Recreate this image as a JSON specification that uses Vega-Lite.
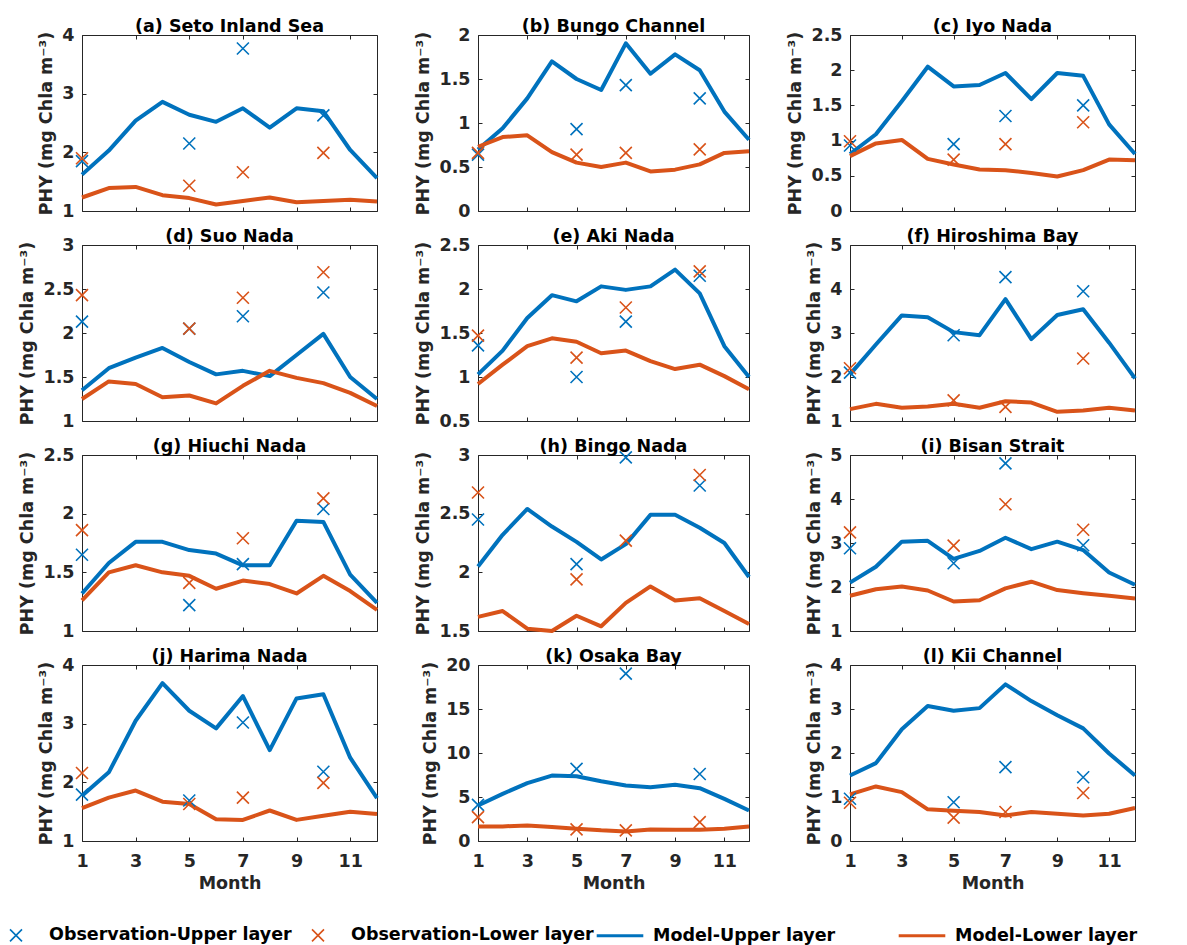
{
"$schema": "https://vega.github.io/schema/vega-lite/v6.json",
"padding": {"left": 5, "top": 17, "right": 5, "bottom": 5},
"background": "white",
"data": {"values": [
{"p":"a","m":1,"MU":1.62,"ML":1.23,"OU":1.85,"OL":1.9},
{"p":"a","m":2,"MU":2.03,"ML":1.39},
{"p":"a","m":3,"MU":2.54,"ML":1.41},
{"p":"a","m":4,"MU":2.86,"ML":1.27},
{"p":"a","m":5,"MU":2.64,"ML":1.22,"OU":2.15,"OL":1.43},
{"p":"a","m":6,"MU":2.52,"ML":1.11},
{"p":"a","m":7,"MU":2.75,"ML":1.17,"OU":3.77,"OL":1.66},
{"p":"a","m":8,"MU":2.42,"ML":1.23},
{"p":"a","m":9,"MU":2.75,"ML":1.15},
{"p":"a","m":10,"MU":2.70,"ML":1.17,"OU":2.63,"OL":1.99},
{"p":"a","m":11,"MU":2.04,"ML":1.19},
{"p":"a","m":12,"MU":1.56,"ML":1.16},
{"p":"b","m":1,"MU":0.70,"ML":0.73,"OU":0.64,"OL":0.66},
{"p":"b","m":2,"MU":0.94,"ML":0.84},
{"p":"b","m":3,"MU":1.28,"ML":0.86},
{"p":"b","m":4,"MU":1.70,"ML":0.67},
{"p":"b","m":5,"MU":1.50,"ML":0.55,"OU":0.93,"OL":0.64},
{"p":"b","m":6,"MU":1.375,"ML":0.50},
{"p":"b","m":7,"MU":1.905,"ML":0.55,"OU":1.43,"OL":0.66},
{"p":"b","m":8,"MU":1.56,"ML":0.45},
{"p":"b","m":9,"MU":1.78,"ML":0.47},
{"p":"b","m":10,"MU":1.60,"ML":0.53,"OU":1.28,"OL":0.70},
{"p":"b","m":11,"MU":1.13,"ML":0.66},
{"p":"b","m":12,"MU":0.81,"ML":0.68},
{"p":"c","m":1,"MU":0.81,"ML":0.78,"OU":0.93,"OL":0.99},
{"p":"c","m":2,"MU":1.09,"ML":0.96},
{"p":"c","m":3,"MU":1.56,"ML":1.01},
{"p":"c","m":4,"MU":2.05,"ML":0.74},
{"p":"c","m":5,"MU":1.77,"ML":0.66,"OU":0.95,"OL":0.73},
{"p":"c","m":6,"MU":1.79,"ML":0.59},
{"p":"c","m":7,"MU":1.96,"ML":0.58,"OU":1.35,"OL":0.95},
{"p":"c","m":8,"MU":1.59,"ML":0.54},
{"p":"c","m":9,"MU":1.96,"ML":0.49},
{"p":"c","m":10,"MU":1.92,"ML":0.58,"OU":1.50,"OL":1.26},
{"p":"c","m":11,"MU":1.23,"ML":0.73},
{"p":"c","m":12,"MU":0.81,"ML":0.72},
{"p":"d","m":1,"MU":1.35,"ML":1.25,"OU":2.13,"OL":2.43},
{"p":"d","m":2,"MU":1.60,"ML":1.45},
{"p":"d","m":3,"MU":1.72,"ML":1.42},
{"p":"d","m":4,"MU":1.83,"ML":1.27},
{"p":"d","m":5,"MU":1.67,"ML":1.29,"OU":2.05,"OL":2.05},
{"p":"d","m":6,"MU":1.53,"ML":1.20},
{"p":"d","m":7,"MU":1.57,"ML":1.40,"OU":2.19,"OL":2.40},
{"p":"d","m":8,"MU":1.51,"ML":1.57},
{"p":"d","m":9,"MU":1.75,"ML":1.49},
{"p":"d","m":10,"MU":1.99,"ML":1.43,"OU":2.46,"OL":2.69},
{"p":"d","m":11,"MU":1.50,"ML":1.32},
{"p":"d","m":12,"MU":1.25,"ML":1.17},
{"p":"e","m":1,"MU":1.03,"ML":0.92,"OU":1.36,"OL":1.47},
{"p":"e","m":2,"MU":1.30,"ML":1.14},
{"p":"e","m":3,"MU":1.67,"ML":1.35},
{"p":"e","m":4,"MU":1.93,"ML":1.44},
{"p":"e","m":5,"MU":1.86,"ML":1.40,"OU":1.00,"OL":1.22},
{"p":"e","m":6,"MU":2.03,"ML":1.27},
{"p":"e","m":7,"MU":1.99,"ML":1.30,"OU":1.63,"OL":1.79},
{"p":"e","m":8,"MU":2.03,"ML":1.18},
{"p":"e","m":9,"MU":2.22,"ML":1.09},
{"p":"e","m":10,"MU":1.95,"ML":1.14,"OU":2.15,"OL":2.20},
{"p":"e","m":11,"MU":1.35,"ML":1.01},
{"p":"e","m":12,"MU":1.00,"ML":0.86},
{"p":"f","m":1,"MU":2.06,"ML":1.27,"OU":2.10,"OL":2.20},
{"p":"f","m":2,"MU":2.74,"ML":1.39},
{"p":"f","m":3,"MU":3.40,"ML":1.30},
{"p":"f","m":4,"MU":3.36,"ML":1.33},
{"p":"f","m":5,"MU":3.02,"ML":1.39,"OU":2.95,"OL":1.47},
{"p":"f","m":6,"MU":2.95,"ML":1.30},
{"p":"f","m":7,"MU":3.77,"ML":1.45,"OU":4.27,"OL":1.32},
{"p":"f","m":8,"MU":2.86,"ML":1.42},
{"p":"f","m":9,"MU":3.41,"ML":1.21},
{"p":"f","m":10,"MU":3.54,"ML":1.24,"OU":3.95,"OL":2.42},
{"p":"f","m":11,"MU":2.78,"ML":1.30},
{"p":"f","m":12,"MU":1.97,"ML":1.24},
{"p":"g","m":1,"MU":1.32,"ML":1.26,"OU":1.65,"OL":1.86},
{"p":"g","m":2,"MU":1.58,"ML":1.50},
{"p":"g","m":3,"MU":1.76,"ML":1.56},
{"p":"g","m":4,"MU":1.76,"ML":1.50},
{"p":"g","m":5,"MU":1.69,"ML":1.47,"OU":1.22,"OL":1.41},
{"p":"g","m":6,"MU":1.66,"ML":1.36},
{"p":"g","m":7,"MU":1.56,"ML":1.43,"OU":1.57,"OL":1.79},
{"p":"g","m":8,"MU":1.56,"ML":1.40},
{"p":"g","m":9,"MU":1.94,"ML":1.32},
{"p":"g","m":10,"MU":1.93,"ML":1.47,"OU":2.04,"OL":2.13},
{"p":"g","m":11,"MU":1.48,"ML":1.34},
{"p":"g","m":12,"MU":1.24,"ML":1.18},
{"p":"h","m":1,"MU":2.05,"ML":1.62,"OU":2.45,"OL":2.68},
{"p":"h","m":2,"MU":2.32,"ML":1.67},
{"p":"h","m":3,"MU":2.54,"ML":1.52},
{"p":"h","m":4,"MU":2.39,"ML":1.50},
{"p":"h","m":5,"MU":2.26,"ML":1.63,"OU":2.07,"OL":1.94},
{"p":"h","m":6,"MU":2.11,"ML":1.54},
{"p":"h","m":7,"MU":2.24,"ML":1.74,"OU":2.98,"OL":2.27},
{"p":"h","m":8,"MU":2.49,"ML":1.88},
{"p":"h","m":9,"MU":2.49,"ML":1.76},
{"p":"h","m":10,"MU":2.38,"ML":1.78,"OU":2.74,"OL":2.83},
{"p":"h","m":11,"MU":2.25,"ML":1.67},
{"p":"h","m":12,"MU":1.96,"ML":1.56},
{"p":"i","m":1,"MU":2.10,"ML":1.80,"OU":2.88,"OL":3.24},
{"p":"i","m":2,"MU":2.46,"ML":1.95},
{"p":"i","m":3,"MU":3.03,"ML":2.01},
{"p":"i","m":4,"MU":3.05,"ML":1.92},
{"p":"i","m":5,"MU":2.64,"ML":1.67,"OU":2.54,"OL":2.94},
{"p":"i","m":6,"MU":2.82,"ML":1.70},
{"p":"i","m":7,"MU":3.12,"ML":1.97,"OU":4.81,"OL":3.88},
{"p":"i","m":8,"MU":2.86,"ML":2.12},
{"p":"i","m":9,"MU":3.03,"ML":1.93},
{"p":"i","m":10,"MU":2.84,"ML":1.86,"OU":2.95,"OL":3.30},
{"p":"i","m":11,"MU":2.33,"ML":1.80},
{"p":"i","m":12,"MU":2.05,"ML":1.74},
{"p":"j","m":1,"MU":1.77,"ML":1.56,"OU":1.79,"OL":2.16},
{"p":"j","m":2,"MU":2.17,"ML":1.74},
{"p":"j","m":3,"MU":3.05,"ML":1.86},
{"p":"j","m":4,"MU":3.69,"ML":1.67},
{"p":"j","m":5,"MU":3.22,"ML":1.63,"OU":1.69,"OL":1.63},
{"p":"j","m":6,"MU":2.92,"ML":1.37},
{"p":"j","m":7,"MU":3.47,"ML":1.36,"OU":3.02,"OL":1.74},
{"p":"j","m":8,"MU":2.55,"ML":1.52},
{"p":"j","m":9,"MU":3.43,"ML":1.36},
{"p":"j","m":10,"MU":3.50,"ML":1.43,"OU":2.18,"OL":1.99},
{"p":"j","m":11,"MU":2.42,"ML":1.50},
{"p":"j","m":12,"MU":1.73,"ML":1.46},
{"p":"k","m":1,"MU":4.04,"ML":1.66,"OU":4.11,"OL":2.72},
{"p":"k","m":2,"MU":5.36,"ML":1.66},
{"p":"k","m":3,"MU":6.57,"ML":1.77},
{"p":"k","m":4,"MU":7.43,"ML":1.58},
{"p":"k","m":5,"MU":7.36,"ML":1.40,"OU":8.19,"OL":1.32},
{"p":"k","m":6,"MU":6.79,"ML":1.21},
{"p":"k","m":7,"MU":6.30,"ML":1.09,"OU":19.02,"OL":1.21},
{"p":"k","m":8,"MU":6.11,"ML":1.32},
{"p":"k","m":9,"MU":6.38,"ML":1.28},
{"p":"k","m":10,"MU":6.00,"ML":1.28,"OU":7.62,"OL":2.15},
{"p":"k","m":11,"MU":4.79,"ML":1.40},
{"p":"k","m":12,"MU":3.47,"ML":1.66},
{"p":"l","m":1,"MU":1.49,"ML":1.06,"OU":0.96,"OL":0.87},
{"p":"l","m":2,"MU":1.77,"ML":1.24},
{"p":"l","m":3,"MU":2.54,"ML":1.11},
{"p":"l","m":4,"MU":3.07,"ML":0.72},
{"p":"l","m":5,"MU":2.96,"ML":0.69,"OU":0.88,"OL":0.53},
{"p":"l","m":6,"MU":3.02,"ML":0.66},
{"p":"l","m":7,"MU":3.56,"ML":0.58,"OU":1.68,"OL":0.66},
{"p":"l","m":8,"MU":3.18,"ML":0.66},
{"p":"l","m":9,"MU":2.86,"ML":0.62},
{"p":"l","m":10,"MU":2.56,"ML":0.58,"OU":1.45,"OL":1.09},
{"p":"l","m":11,"MU":1.99,"ML":0.62},
{"p":"l","m":12,"MU":1.49,"ML":0.75}
]},
"concat": [
  {"width": 295, "height": 176, "title": "(a) Seto Inland Sea",
   "transform": [{"filter": "datum.p=='a'"}, {"fold": ["OU","OL","MU","ML"], "as": ["s","v"]}, {"filter": "isValid(datum.v)"}],
   "layer": [
    {"transform": [{"filter": "datum.s[0]=='O'"}], "mark": {"type": "point", "size": 400, "filled": false, "strokeWidth": 1.6, "opacity": 1, "clip": false},
     "encoding": {
      "x": {"field": "m", "type": "quantitative", "scale": {"domain": [1,12], "nice": false, "zero": false}, "axis": {"orient": "top", "values": [1,3,5,7,9,11], "labels": false, "title": null}},
      "y": {"field": "v", "type": "quantitative", "scale": {"domain": [1,4], "nice": false, "zero": false}, "axis": {"orient": "right", "values": [1,2,3,4], "labels": false, "title": null}},
      "shape": {"field": "s", "type": "nominal", "scale": {"domain": ["OU","OL","MU","ML"], "range": ["M-0.6,-0.6L0.6,0.6M-0.6,0.6L0.6,-0.6","M-0.6,-0.6L0.6,0.6M-0.6,0.6L0.6,-0.6","M-2.25,-0.08L2.25,-0.08L2.25,0.08L-2.25,0.08Z","M-2.25,-0.08L2.25,-0.08L2.25,0.08L-2.25,0.08Z"]}},
      "color": {"field": "s", "type": "nominal", "scale": {"domain": ["OU","OL","MU","ML"], "range": ["#0072BD","#D95319","#0072BD","#D95319"]},
       "legend": {"orient": "none", "legendX": -77, "legendY": 889, "direction": "horizontal", "columns": 4, "gridAlign": "all", "columnPadding": 0, "title": null,
        "symbolSize": 400, "symbolStrokeWidth": 1.6, "labelOffset": 22, "labelFont": "DejaVu Sans", "labelFontSize": 17.5, "labelFontWeight": "bold", "labelColor": "#000000", "labelLimit": 400,
        "labelExpr": "datum.label=='OU' ? 'Observation-Upper layer' : datum.label=='OL' ? 'Observation-Lower layer' : datum.label=='MU' ? 'Model-Upper layer' : 'Model-Lower layer'"}}}},
    {"transform": [{"filter": "datum.s[0]=='M'"}], "mark": {"type": "line", "strokeWidth": 4, "strokeJoin": "round", "clip": false},
     "encoding": {
      "x": {"field": "m", "type": "quantitative", "scale": {"domain": [1,12], "nice": false, "zero": false}, "axis": {"orient": "bottom", "values": [1,3,5,7,9,11], "labels": false, "title": null}},
      "y": {"field": "v", "type": "quantitative", "scale": {"domain": [1,4], "nice": false, "zero": false}, "axis": {"orient": "left", "values": [1,2,3,4], "format": "~g", "title": "PHY (mg Chla m⁻³)"}},
      "color": {"field": "s", "type": "nominal", "scale": {"domain": ["OU","OL","MU","ML"], "range": ["#0072BD","#D95319","#0072BD","#D95319"]}}}}
   ],
   "resolve": {"axis": {"x": "independent", "y": "independent"}}},
  {"width": 271, "height": 176, "title": "(b) Bungo Channel",
   "transform": [{"filter": "datum.p=='b'"}, {"fold": ["OU","OL","MU","ML"], "as": ["s","v"]}, {"filter": "isValid(datum.v)"}],
   "layer": [
    {"transform": [{"filter": "datum.s[0]=='M'"}], "mark": {"type": "line", "strokeWidth": 4, "strokeJoin": "round", "clip": false},
     "encoding": {
      "x": {"field": "m", "type": "quantitative", "scale": {"domain": [1,12], "nice": false, "zero": false}, "axis": {"orient": "bottom", "values": [1,3,5,7,9,11], "labels": false, "title": null}},
      "y": {"field": "v", "type": "quantitative", "scale": {"domain": [0,2], "nice": false, "zero": false}, "axis": {"orient": "left", "values": [0,0.5,1,1.5,2], "format": "~g", "title": "PHY (mg Chla m⁻³)"}},
      "color": {"field": "s", "type": "nominal", "scale": {"domain": ["OU","OL","MU","ML"], "range": ["#0072BD","#D95319","#0072BD","#D95319"]}}}},
    {"transform": [{"filter": "datum.s[0]=='O'"}], "mark": {"type": "point", "size": 400, "filled": false, "strokeWidth": 1.6, "opacity": 1, "clip": false},
     "encoding": {
      "x": {"field": "m", "type": "quantitative", "scale": {"domain": [1,12], "nice": false, "zero": false}, "axis": {"orient": "top", "values": [1,3,5,7,9,11], "labels": false, "title": null}},
      "y": {"field": "v", "type": "quantitative", "scale": {"domain": [0,2], "nice": false, "zero": false}, "axis": {"orient": "right", "values": [0,0.5,1,1.5,2], "labels": false, "title": null}},
      "shape": {"field": "s", "type": "nominal", "scale": {"domain": ["OU","OL","MU","ML"], "range": ["M-0.6,-0.6L0.6,0.6M-0.6,0.6L0.6,-0.6","M-0.6,-0.6L0.6,0.6M-0.6,0.6L0.6,-0.6","M-2.25,-0.08L2.25,-0.08L2.25,0.08L-2.25,0.08Z","M-2.25,-0.08L2.25,-0.08L2.25,0.08L-2.25,0.08Z"]}},
      "color": {"field": "s", "type": "nominal", "scale": {"domain": ["OU","OL","MU","ML"], "range": ["#0072BD","#D95319","#0072BD","#D95319"]}}}}
   ],
   "resolve": {"axis": {"x": "independent", "y": "independent"}}},
 {"width": 285, "height": 176, "title": "(c) Iyo Nada",
  "transform": [{"filter": "datum.p=='c'"}, {"fold": ["OU","OL","MU","ML"], "as": ["s","v"]}, {"filter": "isValid(datum.v)"}],
  "layer": [
   {"transform": [{"filter": "datum.s[0]=='M'"}], "mark": {"type": "line", "strokeWidth": 4, "strokeJoin": "round", "clip": false},
    "encoding": {
     "x": {"field": "m", "type": "quantitative", "scale": {"domain": [1,12], "nice": false, "zero": false}, "axis": {"orient": "bottom", "values": [1,3,5,7,9,11], "labels": false, "title": null}},
     "y": {"field": "v", "type": "quantitative", "scale": {"domain": [0,2.5], "nice": false, "zero": false}, "axis": {"orient": "left", "values": [0,0.5,1,1.5,2,2.5], "format": "~g", "title": "PHY (mg Chla m⁻³)"}},
     "color": {"field": "s", "type": "nominal", "scale": {"domain": ["OU","OL","MU","ML"], "range": ["#0072BD","#D95319","#0072BD","#D95319"]}}}},
   {"transform": [{"filter": "datum.s[0]=='O'"}], "mark": {"type": "point", "size": 400, "filled": false, "strokeWidth": 1.6, "opacity": 1, "clip": false},
    "encoding": {
     "x": {"field": "m", "type": "quantitative", "scale": {"domain": [1,12], "nice": false, "zero": false}, "axis": {"orient": "top", "values": [1,3,5,7,9,11], "labels": false, "title": null}},
     "y": {"field": "v", "type": "quantitative", "scale": {"domain": [0,2.5], "nice": false, "zero": false}, "axis": {"orient": "right", "values": [0,0.5,1,1.5,2,2.5], "labels": false, "title": null}},
     "shape": {"field": "s", "type": "nominal", "scale": {"domain": ["OU","OL","MU","ML"], "range": ["M-0.6,-0.6L0.6,0.6M-0.6,0.6L0.6,-0.6","M-0.6,-0.6L0.6,0.6M-0.6,0.6L0.6,-0.6","M-2.25,-0.08L2.25,-0.08L2.25,0.08L-2.25,0.08Z","M-2.25,-0.08L2.25,-0.08L2.25,0.08L-2.25,0.08Z"]}},
     "color": {"field": "s", "type": "nominal", "scale": {"domain": ["OU","OL","MU","ML"], "range": ["#0072BD","#D95319","#0072BD","#D95319"]}}}}
  ],
  "resolve": {"axis": {"x": "independent", "y": "independent"}}},
  {"width": 295, "height": 176, "title": "(d) Suo Nada",
   "transform": [{"filter": "datum.p=='d'"}, {"fold": ["OU","OL","MU","ML"], "as": ["s","v"]}, {"filter": "isValid(datum.v)"}],
   "layer": [
    {"transform": [{"filter": "datum.s[0]=='M'"}], "mark": {"type": "line", "strokeWidth": 4, "strokeJoin": "round", "clip": false},
     "encoding": {
      "x": {"field": "m", "type": "quantitative", "scale": {"domain": [1,12], "nice": false, "zero": false}, "axis": {"orient": "bottom", "values": [1,3,5,7,9,11], "labels": false, "title": null}},
      "y": {"field": "v", "type": "quantitative", "scale": {"domain": [1,3], "nice": false, "zero": false}, "axis": {"orient": "left", "values": [1,1.5,2,2.5,3], "format": "~g", "title": "PHY (mg Chla m⁻³)"}},
      "color": {"field": "s", "type": "nominal", "scale": {"domain": ["OU","OL","MU","ML"], "range": ["#0072BD","#D95319","#0072BD","#D95319"]}}}},
    {"transform": [{"filter": "datum.s[0]=='O'"}], "mark": {"type": "point", "size": 400, "filled": false, "strokeWidth": 1.6, "opacity": 1, "clip": false},
     "encoding": {
      "x": {"field": "m", "type": "quantitative", "scale": {"domain": [1,12], "nice": false, "zero": false}, "axis": {"orient": "top", "values": [1,3,5,7,9,11], "labels": false, "title": null}},
      "y": {"field": "v", "type": "quantitative", "scale": {"domain": [1,3], "nice": false, "zero": false}, "axis": {"orient": "right", "values": [1,1.5,2,2.5,3], "labels": false, "title": null}},
      "shape": {"field": "s", "type": "nominal", "scale": {"domain": ["OU","OL","MU","ML"], "range": ["M-0.6,-0.6L0.6,0.6M-0.6,0.6L0.6,-0.6","M-0.6,-0.6L0.6,0.6M-0.6,0.6L0.6,-0.6","M-2.25,-0.08L2.25,-0.08L2.25,0.08L-2.25,0.08Z","M-2.25,-0.08L2.25,-0.08L2.25,0.08L-2.25,0.08Z"]}},
      "color": {"field": "s", "type": "nominal", "scale": {"domain": ["OU","OL","MU","ML"], "range": ["#0072BD","#D95319","#0072BD","#D95319"]}}}}
   ],
   "resolve": {"axis": {"x": "independent", "y": "independent"}}},
  {"width": 271, "height": 176, "title": "(e) Aki Nada",
   "transform": [{"filter": "datum.p=='e'"}, {"fold": ["OU","OL","MU","ML"], "as": ["s","v"]}, {"filter": "isValid(datum.v)"}],
   "layer": [
    {"transform": [{"filter": "datum.s[0]=='M'"}], "mark": {"type": "line", "strokeWidth": 4, "strokeJoin": "round", "clip": false},
     "encoding": {
      "x": {"field": "m", "type": "quantitative", "scale": {"domain": [1,12], "nice": false, "zero": false}, "axis": {"orient": "bottom", "values": [1,3,5,7,9,11], "labels": false, "title": null}},
      "y": {"field": "v", "type": "quantitative", "scale": {"domain": [0.5,2.5], "nice": false, "zero": false}, "axis": {"orient": "left", "values": [0.5,1,1.5,2,2.5], "format": "~g", "title": "PHY (mg Chla m⁻³)"}},
      "color": {"field": "s", "type": "nominal", "scale": {"domain": ["OU","OL","MU","ML"], "range": ["#0072BD","#D95319","#0072BD","#D95319"]}}}},
    {"transform": [{"filter": "datum.s[0]=='O'"}], "mark": {"type": "point", "size": 400, "filled": false, "strokeWidth": 1.6, "opacity": 1, "clip": false},
     "encoding": {
      "x": {"field": "m", "type": "quantitative", "scale": {"domain": [1,12], "nice": false, "zero": false}, "axis": {"orient": "top", "values": [1,3,5,7,9,11], "labels": false, "title": null}},
      "y": {"field": "v", "type": "quantitative", "scale": {"domain": [0.5,2.5], "nice": false, "zero": false}, "axis": {"orient": "right", "values": [0.5,1,1.5,2,2.5], "labels": false, "title": null}},
      "shape": {"field": "s", "type": "nominal", "scale": {"domain": ["OU","OL","MU","ML"], "range": ["M-0.6,-0.6L0.6,0.6M-0.6,0.6L0.6,-0.6","M-0.6,-0.6L0.6,0.6M-0.6,0.6L0.6,-0.6","M-2.25,-0.08L2.25,-0.08L2.25,0.08L-2.25,0.08Z","M-2.25,-0.08L2.25,-0.08L2.25,0.08L-2.25,0.08Z"]}},
      "color": {"field": "s", "type": "nominal", "scale": {"domain": ["OU","OL","MU","ML"], "range": ["#0072BD","#D95319","#0072BD","#D95319"]}}}}
   ],
   "resolve": {"axis": {"x": "independent", "y": "independent"}}},
 {"width": 285, "height": 176, "title": "(f) Hiroshima Bay",
  "transform": [{"filter": "datum.p=='f'"}, {"fold": ["OU","OL","MU","ML"], "as": ["s","v"]}, {"filter": "isValid(datum.v)"}],
  "layer": [
   {"transform": [{"filter": "datum.s[0]=='M'"}], "mark": {"type": "line", "strokeWidth": 4, "strokeJoin": "round", "clip": false},
    "encoding": {
     "x": {"field": "m", "type": "quantitative", "scale": {"domain": [1,12], "nice": false, "zero": false}, "axis": {"orient": "bottom", "values": [1,3,5,7,9,11], "labels": false, "title": null}},
     "y": {"field": "v", "type": "quantitative", "scale": {"domain": [1,5], "nice": false, "zero": false}, "axis": {"orient": "left", "values": [1,2,3,4,5], "format": "~g", "title": "PHY (mg Chla m⁻³)"}},
     "color": {"field": "s", "type": "nominal", "scale": {"domain": ["OU","OL","MU","ML"], "range": ["#0072BD","#D95319","#0072BD","#D95319"]}}}},
   {"transform": [{"filter": "datum.s[0]=='O'"}], "mark": {"type": "point", "size": 400, "filled": false, "strokeWidth": 1.6, "opacity": 1, "clip": false},
    "encoding": {
     "x": {"field": "m", "type": "quantitative", "scale": {"domain": [1,12], "nice": false, "zero": false}, "axis": {"orient": "top", "values": [1,3,5,7,9,11], "labels": false, "title": null}},
     "y": {"field": "v", "type": "quantitative", "scale": {"domain": [1,5], "nice": false, "zero": false}, "axis": {"orient": "right", "values": [1,2,3,4,5], "labels": false, "title": null}},
     "shape": {"field": "s", "type": "nominal", "scale": {"domain": ["OU","OL","MU","ML"], "range": ["M-0.6,-0.6L0.6,0.6M-0.6,0.6L0.6,-0.6","M-0.6,-0.6L0.6,0.6M-0.6,0.6L0.6,-0.6","M-2.25,-0.08L2.25,-0.08L2.25,0.08L-2.25,0.08Z","M-2.25,-0.08L2.25,-0.08L2.25,0.08L-2.25,0.08Z"]}},
     "color": {"field": "s", "type": "nominal", "scale": {"domain": ["OU","OL","MU","ML"], "range": ["#0072BD","#D95319","#0072BD","#D95319"]}}}}
  ],
  "resolve": {"axis": {"x": "independent", "y": "independent"}}},
  {"width": 295, "height": 176, "title": "(g) Hiuchi Nada",
   "transform": [{"filter": "datum.p=='g'"}, {"fold": ["OU","OL","MU","ML"], "as": ["s","v"]}, {"filter": "isValid(datum.v)"}],
   "layer": [
    {"transform": [{"filter": "datum.s[0]=='M'"}], "mark": {"type": "line", "strokeWidth": 4, "strokeJoin": "round", "clip": false},
     "encoding": {
      "x": {"field": "m", "type": "quantitative", "scale": {"domain": [1,12], "nice": false, "zero": false}, "axis": {"orient": "bottom", "values": [1,3,5,7,9,11], "labels": false, "title": null}},
      "y": {"field": "v", "type": "quantitative", "scale": {"domain": [1,2.5], "nice": false, "zero": false}, "axis": {"orient": "left", "values": [1,1.5,2,2.5], "format": "~g", "title": "PHY (mg Chla m⁻³)"}},
      "color": {"field": "s", "type": "nominal", "scale": {"domain": ["OU","OL","MU","ML"], "range": ["#0072BD","#D95319","#0072BD","#D95319"]}}}},
    {"transform": [{"filter": "datum.s[0]=='O'"}], "mark": {"type": "point", "size": 400, "filled": false, "strokeWidth": 1.6, "opacity": 1, "clip": false},
     "encoding": {
      "x": {"field": "m", "type": "quantitative", "scale": {"domain": [1,12], "nice": false, "zero": false}, "axis": {"orient": "top", "values": [1,3,5,7,9,11], "labels": false, "title": null}},
      "y": {"field": "v", "type": "quantitative", "scale": {"domain": [1,2.5], "nice": false, "zero": false}, "axis": {"orient": "right", "values": [1,1.5,2,2.5], "labels": false, "title": null}},
      "shape": {"field": "s", "type": "nominal", "scale": {"domain": ["OU","OL","MU","ML"], "range": ["M-0.6,-0.6L0.6,0.6M-0.6,0.6L0.6,-0.6","M-0.6,-0.6L0.6,0.6M-0.6,0.6L0.6,-0.6","M-2.25,-0.08L2.25,-0.08L2.25,0.08L-2.25,0.08Z","M-2.25,-0.08L2.25,-0.08L2.25,0.08L-2.25,0.08Z"]}},
      "color": {"field": "s", "type": "nominal", "scale": {"domain": ["OU","OL","MU","ML"], "range": ["#0072BD","#D95319","#0072BD","#D95319"]}}}}
   ],
   "resolve": {"axis": {"x": "independent", "y": "independent"}}},
  {"width": 271, "height": 176, "title": "(h) Bingo Nada",
   "transform": [{"filter": "datum.p=='h'"}, {"fold": ["OU","OL","MU","ML"], "as": ["s","v"]}, {"filter": "isValid(datum.v)"}],
   "layer": [
    {"transform": [{"filter": "datum.s[0]=='M'"}], "mark": {"type": "line", "strokeWidth": 4, "strokeJoin": "round", "clip": false},
     "encoding": {
      "x": {"field": "m", "type": "quantitative", "scale": {"domain": [1,12], "nice": false, "zero": false}, "axis": {"orient": "bottom", "values": [1,3,5,7,9,11], "labels": false, "title": null}},
      "y": {"field": "v", "type": "quantitative", "scale": {"domain": [1.5,3], "nice": false, "zero": false}, "axis": {"orient": "left", "values": [1.5,2,2.5,3], "format": "~g", "title": "PHY (mg Chla m⁻³)"}},
      "color": {"field": "s", "type": "nominal", "scale": {"domain": ["OU","OL","MU","ML"], "range": ["#0072BD","#D95319","#0072BD","#D95319"]}}}},
    {"transform": [{"filter": "datum.s[0]=='O'"}], "mark": {"type": "point", "size": 400, "filled": false, "strokeWidth": 1.6, "opacity": 1, "clip": false},
     "encoding": {
      "x": {"field": "m", "type": "quantitative", "scale": {"domain": [1,12], "nice": false, "zero": false}, "axis": {"orient": "top", "values": [1,3,5,7,9,11], "labels": false, "title": null}},
      "y": {"field": "v", "type": "quantitative", "scale": {"domain": [1.5,3], "nice": false, "zero": false}, "axis": {"orient": "right", "values": [1.5,2,2.5,3], "labels": false, "title": null}},
      "shape": {"field": "s", "type": "nominal", "scale": {"domain": ["OU","OL","MU","ML"], "range": ["M-0.6,-0.6L0.6,0.6M-0.6,0.6L0.6,-0.6","M-0.6,-0.6L0.6,0.6M-0.6,0.6L0.6,-0.6","M-2.25,-0.08L2.25,-0.08L2.25,0.08L-2.25,0.08Z","M-2.25,-0.08L2.25,-0.08L2.25,0.08L-2.25,0.08Z"]}},
      "color": {"field": "s", "type": "nominal", "scale": {"domain": ["OU","OL","MU","ML"], "range": ["#0072BD","#D95319","#0072BD","#D95319"]}}}}
   ],
   "resolve": {"axis": {"x": "independent", "y": "independent"}}},
 {"width": 285, "height": 176, "title": "(i) Bisan Strait",
  "transform": [{"filter": "datum.p=='i'"}, {"fold": ["OU","OL","MU","ML"], "as": ["s","v"]}, {"filter": "isValid(datum.v)"}],
  "layer": [
   {"transform": [{"filter": "datum.s[0]=='M'"}], "mark": {"type": "line", "strokeWidth": 4, "strokeJoin": "round", "clip": false},
    "encoding": {
     "x": {"field": "m", "type": "quantitative", "scale": {"domain": [1,12], "nice": false, "zero": false}, "axis": {"orient": "bottom", "values": [1,3,5,7,9,11], "labels": false, "title": null}},
     "y": {"field": "v", "type": "quantitative", "scale": {"domain": [1,5], "nice": false, "zero": false}, "axis": {"orient": "left", "values": [1,2,3,4,5], "format": "~g", "title": "PHY (mg Chla m⁻³)"}},
     "color": {"field": "s", "type": "nominal", "scale": {"domain": ["OU","OL","MU","ML"], "range": ["#0072BD","#D95319","#0072BD","#D95319"]}}}},
   {"transform": [{"filter": "datum.s[0]=='O'"}], "mark": {"type": "point", "size": 400, "filled": false, "strokeWidth": 1.6, "opacity": 1, "clip": false},
    "encoding": {
     "x": {"field": "m", "type": "quantitative", "scale": {"domain": [1,12], "nice": false, "zero": false}, "axis": {"orient": "top", "values": [1,3,5,7,9,11], "labels": false, "title": null}},
     "y": {"field": "v", "type": "quantitative", "scale": {"domain": [1,5], "nice": false, "zero": false}, "axis": {"orient": "right", "values": [1,2,3,4,5], "labels": false, "title": null}},
     "shape": {"field": "s", "type": "nominal", "scale": {"domain": ["OU","OL","MU","ML"], "range": ["M-0.6,-0.6L0.6,0.6M-0.6,0.6L0.6,-0.6","M-0.6,-0.6L0.6,0.6M-0.6,0.6L0.6,-0.6","M-2.25,-0.08L2.25,-0.08L2.25,0.08L-2.25,0.08Z","M-2.25,-0.08L2.25,-0.08L2.25,0.08L-2.25,0.08Z"]}},
     "color": {"field": "s", "type": "nominal", "scale": {"domain": ["OU","OL","MU","ML"], "range": ["#0072BD","#D95319","#0072BD","#D95319"]}}}}
  ],
  "resolve": {"axis": {"x": "independent", "y": "independent"}}},
  {"width": 295, "height": 176, "title": "(j) Harima Nada",
   "transform": [{"filter": "datum.p=='j'"}, {"fold": ["OU","OL","MU","ML"], "as": ["s","v"]}, {"filter": "isValid(datum.v)"}],
   "layer": [
    {"transform": [{"filter": "datum.s[0]=='M'"}], "mark": {"type": "line", "strokeWidth": 4, "strokeJoin": "round", "clip": false},
     "encoding": {
      "x": {"field": "m", "type": "quantitative", "scale": {"domain": [1,12], "nice": false, "zero": false}, "axis": {"orient": "bottom", "values": [1,3,5,7,9,11], "title": "Month"}},
      "y": {"field": "v", "type": "quantitative", "scale": {"domain": [1,4], "nice": false, "zero": false}, "axis": {"orient": "left", "values": [1,2,3,4], "format": "~g", "title": "PHY (mg Chla m⁻³)"}},
      "color": {"field": "s", "type": "nominal", "scale": {"domain": ["OU","OL","MU","ML"], "range": ["#0072BD","#D95319","#0072BD","#D95319"]}}}},
    {"transform": [{"filter": "datum.s[0]=='O'"}], "mark": {"type": "point", "size": 400, "filled": false, "strokeWidth": 1.6, "opacity": 1, "clip": false},
     "encoding": {
      "x": {"field": "m", "type": "quantitative", "scale": {"domain": [1,12], "nice": false, "zero": false}, "axis": {"orient": "top", "values": [1,3,5,7,9,11], "labels": false, "title": null}},
      "y": {"field": "v", "type": "quantitative", "scale": {"domain": [1,4], "nice": false, "zero": false}, "axis": {"orient": "right", "values": [1,2,3,4], "labels": false, "title": null}},
      "shape": {"field": "s", "type": "nominal", "scale": {"domain": ["OU","OL","MU","ML"], "range": ["M-0.6,-0.6L0.6,0.6M-0.6,0.6L0.6,-0.6","M-0.6,-0.6L0.6,0.6M-0.6,0.6L0.6,-0.6","M-2.25,-0.08L2.25,-0.08L2.25,0.08L-2.25,0.08Z","M-2.25,-0.08L2.25,-0.08L2.25,0.08L-2.25,0.08Z"]}},
      "color": {"field": "s", "type": "nominal", "scale": {"domain": ["OU","OL","MU","ML"], "range": ["#0072BD","#D95319","#0072BD","#D95319"]}}}}
   ],
   "resolve": {"axis": {"x": "independent", "y": "independent"}}},
  {"width": 271, "height": 176, "title": "(k) Osaka Bay",
   "transform": [{"filter": "datum.p=='k'"}, {"fold": ["OU","OL","MU","ML"], "as": ["s","v"]}, {"filter": "isValid(datum.v)"}],
   "layer": [
    {"transform": [{"filter": "datum.s[0]=='M'"}], "mark": {"type": "line", "strokeWidth": 4, "strokeJoin": "round", "clip": false},
     "encoding": {
      "x": {"field": "m", "type": "quantitative", "scale": {"domain": [1,12], "nice": false, "zero": false}, "axis": {"orient": "bottom", "values": [1,3,5,7,9,11], "title": "Month"}},
      "y": {"field": "v", "type": "quantitative", "scale": {"domain": [0,20], "nice": false, "zero": false}, "axis": {"orient": "left", "values": [0,5,10,15,20], "format": "~g", "title": "PHY (mg Chla m⁻³)"}},
      "color": {"field": "s", "type": "nominal", "scale": {"domain": ["OU","OL","MU","ML"], "range": ["#0072BD","#D95319","#0072BD","#D95319"]}}}},
    {"transform": [{"filter": "datum.s[0]=='O'"}], "mark": {"type": "point", "size": 400, "filled": false, "strokeWidth": 1.6, "opacity": 1, "clip": false},
     "encoding": {
      "x": {"field": "m", "type": "quantitative", "scale": {"domain": [1,12], "nice": false, "zero": false}, "axis": {"orient": "top", "values": [1,3,5,7,9,11], "labels": false, "title": null}},
      "y": {"field": "v", "type": "quantitative", "scale": {"domain": [0,20], "nice": false, "zero": false}, "axis": {"orient": "right", "values": [0,5,10,15,20], "labels": false, "title": null}},
      "shape": {"field": "s", "type": "nominal", "scale": {"domain": ["OU","OL","MU","ML"], "range": ["M-0.6,-0.6L0.6,0.6M-0.6,0.6L0.6,-0.6","M-0.6,-0.6L0.6,0.6M-0.6,0.6L0.6,-0.6","M-2.25,-0.08L2.25,-0.08L2.25,0.08L-2.25,0.08Z","M-2.25,-0.08L2.25,-0.08L2.25,0.08L-2.25,0.08Z"]}},
      "color": {"field": "s", "type": "nominal", "scale": {"domain": ["OU","OL","MU","ML"], "range": ["#0072BD","#D95319","#0072BD","#D95319"]}}}}
   ],
   "resolve": {"axis": {"x": "independent", "y": "independent"}}},
 {"width": 285, "height": 176, "title": "(l) Kii Channel",
  "transform": [{"filter": "datum.p=='l'"}, {"fold": ["OU","OL","MU","ML"], "as": ["s","v"]}, {"filter": "isValid(datum.v)"}],
  "layer": [
   {"transform": [{"filter": "datum.s[0]=='M'"}], "mark": {"type": "line", "strokeWidth": 4, "strokeJoin": "round", "clip": false},
    "encoding": {
     "x": {"field": "m", "type": "quantitative", "scale": {"domain": [1,12], "nice": false, "zero": false}, "axis": {"orient": "bottom", "values": [1,3,5,7,9,11], "title": "Month"}},
     "y": {"field": "v", "type": "quantitative", "scale": {"domain": [0,4], "nice": false, "zero": false}, "axis": {"orient": "left", "values": [0,1,2,3,4], "format": "~g", "title": "PHY (mg Chla m⁻³)"}},
     "color": {"field": "s", "type": "nominal", "scale": {"domain": ["OU","OL","MU","ML"], "range": ["#0072BD","#D95319","#0072BD","#D95319"]}}}},
   {"transform": [{"filter": "datum.s[0]=='O'"}], "mark": {"type": "point", "size": 400, "filled": false, "strokeWidth": 1.6, "opacity": 1, "clip": false},
    "encoding": {
     "x": {"field": "m", "type": "quantitative", "scale": {"domain": [1,12], "nice": false, "zero": false}, "axis": {"orient": "top", "values": [1,3,5,7,9,11], "labels": false, "title": null}},
     "y": {"field": "v", "type": "quantitative", "scale": {"domain": [0,4], "nice": false, "zero": false}, "axis": {"orient": "right", "values": [0,1,2,3,4], "labels": false, "title": null}},
     "shape": {"field": "s", "type": "nominal", "scale": {"domain": ["OU","OL","MU","ML"], "range": ["M-0.6,-0.6L0.6,0.6M-0.6,0.6L0.6,-0.6","M-0.6,-0.6L0.6,0.6M-0.6,0.6L0.6,-0.6","M-2.25,-0.08L2.25,-0.08L2.25,0.08L-2.25,0.08Z","M-2.25,-0.08L2.25,-0.08L2.25,0.08L-2.25,0.08Z"]}},
     "color": {"field": "s", "type": "nominal", "scale": {"domain": ["OU","OL","MU","ML"], "range": ["#0072BD","#D95319","#0072BD","#D95319"]}}}}
  ],
  "resolve": {"axis": {"x": "independent", "y": "independent"}}}
],
"columns": 3,
"spacing": {"row": 34, "column": 101},
"bounds": "flush",
"align": "each",
"config": {
 "font": "DejaVu Sans",
 "view": {"stroke": null},
 "axis": {"labelFont": "DejaVu Sans", "labelFontSize": 17.5, "labelFontWeight": "bold", "labelColor": "#262626",
  "titleFont": "DejaVu Sans", "titleFontSize": 17.5, "titleFontWeight": "bold", "titleColor": "#262626",
  "domainColor": "#262626", "domainWidth": 1, "tickColor": "#262626", "tickSize": -4, "tickWidth": 1, "grid": false, "labelFlush": false, "labelOverlap": false},
 "axisX": {"labelPadding": 15, "titlePadding": 5},
 "axisY": {"labelPadding": 12, "titlePadding": 6},
 "title": {"font": "DejaVu Sans", "fontSize": 17.5, "fontWeight": "bold", "color": "#000000", "offset": -9}
}
}
